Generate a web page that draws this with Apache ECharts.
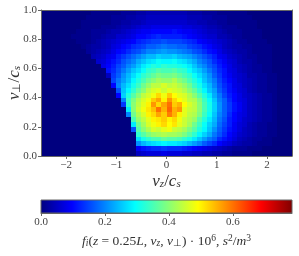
<!DOCTYPE html>
<html><head><meta charset="utf-8">
<style>html,body{margin:0;padding:0;background:#fff}#c{width:299px;height:256px}</style>
<script src="https://cdn.jsdelivr.net/npm/echarts@6/dist/echarts.min.js"></script>
</head><body><div id="c"></div>
<script>
const vzBins = [-2.45,-2.35,-2.25,-2.15,-2.05,-1.95,-1.85,-1.75,-1.65,-1.55,-1.45,-1.35,-1.25,-1.15,-1.05,-0.95,-0.85,-0.75,-0.65,-0.55,-0.45,-0.35,-0.25,-0.15,-0.05,0.05,0.15,0.25,0.35,0.45,0.55,0.65,0.75,0.85,0.95,1.05,1.15,1.25,1.35,1.45,1.55,1.65,1.75,1.85,1.95,2.05,2.15,2.25,2.35,2.45];
const vPerpBins = [0.983,0.95,0.917,0.883,0.85,0.817,0.783,0.75,0.717,0.683,0.65,0.617,0.583,0.55,0.517,0.483,0.45,0.417,0.383,0.35,0.317,0.283,0.25,0.217,0.183,0.15,0.117,0.083,0.05,0.017];
// f_i in hundredths, rows from top (v_perp = 1) to bottom, columns left to right
const fRows = [
[0,0,0,0,0,0,0,0,0,0, 1,1,1,1,1,1,2,2,2,3, 3,4,4,4,4,4,4,4,4,3, 3,3,2,2,2,1,1,1,1,1, 1,0,0,0,0,0,0,0,0,0],
[0,0,0,0,0,0,0,0,0,1, 1,1,1,1,2,2,2,3,3,4, 4,5,5,5,5,5,5,5,5,4, 4,4,3,3,2,2,2,1,1,1, 1,1,0,0,0,0,0,0,0,0],
[0,0,0,0,0,0,0,0,1,1, 1,1,1,1,2,2,3,3,4,4, 5,6,6,6,6,6,6,6,6,5, 5,4,4,3,3,2,2,1,1,1, 1,1,1,0,0,0,0,0,0,0],
[0,0,0,0,0,0,0,0,1,1, 1,1,2,2,2,3,4,4,5,6, 7,7,8,8,8,8,8,8,7,7, 6,6,5,4,4,3,2,2,2,1, 1,1,1,0,0,0,0,0,0,0],
[0,0,0,0,0,0,0,1,1,1, 2,2,2,3,4,4,5,6,7,8, 9,9,10,10,10,10,11,10,9,9, 8,7,6,5,5,4,3,2,2,2, 1,1,1,1,0,0,0,0,0,0],
[0,0,0,0,0,0,1,1,1,1, 2,2,3,4,4,6,6,7,8,10, 10,11,12,13,12,12,12,12,11,10, 9,8,7,6,6,4,4,3,2,2, 1,1,1,1,0,0,0,0,0,0],
[0,0,0,0,0,0,0,1,1,1, 2,3,4,5,6,7,8,9,10,12, 13,14,15,15,16,15,15,15,14,13, 12,10,9,8,7,6,5,4,3,2, 2,1,1,1,1,0,0,0,0,0],
[0,0,0,0,0,0,0,0,1,2, 3,3,4,5,7,8,10,11,13,14, 15,17,17,18,19,18,18,17,17,15, 14,13,11,10,8,7,5,4,3,3, 2,2,1,1,1,1,0,0,0,0],
[0,0,0,0,0,0,0,0,0,2, 3,4,5,6,8,10,11,13,15,16, 18,20,20,21,22,21,21,20,19,18, 16,15,13,11,10,8,6,5,4,3, 3,2,1,1,1,1,0,0,0,0],
[0,0,0,0,0,0,0,0,0,0, 4,5,6,8,9,12,14,16,18,20, 22,24,24,26,25,25,26,24,23,22, 20,18,16,14,12,9,8,6,5,4, 3,2,2,1,1,1,0,0,0,0],
[0,0,0,0,0,0,0,0,0,0, 0,6,7,9,11,13,16,18,20,23, 25,27,28,30,29,29,30,28,27,25, 23,20,18,16,13,11,9,7,6,4, 3,3,2,1,1,1,0,0,0,0],
[0,0,0,0,0,0,0,0,0,0, 0,0,8,10,12,15,17,20,22,25, 28,30,32,31,33,32,32,31,30,28, 25,22,20,17,15,12,10,8,6,5, 4,3,2,2,1,1,0,0,0,0],
[0,0,0,0,0,0,0,0,0,0, 0,0,0,11,13,16,19,22,25,27, 30,33,34,36,35,35,36,34,33,30, 27,25,22,19,16,13,11,8,7,5, 4,3,2,2,1,1,0,0,0,0],
[0,0,0,0,0,0,0,0,0,0, 0,0,0,5,14,17,21,24,27,30, 33,35,37,39,38,38,39,37,35,33, 30,27,24,21,17,14,11,9,7,6, 5,3,3,2,2,1,1,0,0,0],
[0,0,0,0,0,0,0,0,0,0, 0,0,0,0,15,19,22,25,29,32, 35,38,40,42,41,41,43,40,38,35, 32,29,25,22,19,15,12,10,8,6, 5,4,3,2,2,1,1,0,0,0],
[0,0,0,0,0,0,0,0,0,0, 0,0,0,0,10,20,24,27,31,34, 38,41,44,44,46,44,45,43,41,38, 34,31,27,24,20,16,13,11,8,7, 5,4,3,2,2,1,1,0,0,0],
[0,0,0,0,0,0,0,0,0,0, 0,0,0,0,0,16,25,29,33,37, 40,44,46,47,45,47,46,45,43,40, 37,33,29,25,22,17,14,11,9,7, 6,4,3,2,2,1,1,0,0,0],
[0,0,0,0,0,0,0,0,0,0, 0,0,0,0,0,10,26,32,36,40, 44,46,48,52,48,53,49,47,46,43, 40,36,32,28,23,19,15,12,10,8, 6,5,4,3,2,2,1,0,0,0],
[0,0,0,0,0,0,0,0,0,0, 0,0,0,0,0,0,20,34,39,43, 46,48,53,56,50,57,52,49,47,44, 43,39,34,30,25,20,17,13,10,8, 7,5,4,3,2,2,1,0,0,0],
[0,0,0,0,0,0,0,0,0,0, 0,0,0,0,0,0,14,33,40,44, 47,50,57,52,56,60,53,55,49,46, 44,40,35,31,26,21,17,14,11,9, 7,5,4,3,2,2,1,0,0,0],
[0,0,0,0,0,0,0,0,0,0, 0,0,0,0,0,0,0,28,40,45, 48,51,54,60,55,61,55,57,47,45, 44,40,35,31,26,21,17,14,11,9, 7,5,4,3,2,2,1,0,0,0],
[0,0,0,0,0,0,0,0,0,0, 0,0,0,0,0,0,0,20,38,43, 46,50,52,56,53,59,55,50,47,44, 43,39,34,30,25,20,17,13,10,8, 7,5,4,3,2,2,1,0,0,0],
[0,0,0,0,0,0,0,0,0,0, 0,0,0,0,0,0,0,0,35,41, 44,47,50,51,53,50,52,48,45,43, 41,36,32,28,24,19,16,12,10,8, 6,5,4,3,2,2,1,0,0,0],
[0,0,0,0,0,0,0,0,0,0, 0,0,0,0,0,0,0,0,28,38, 42,46,48,50,52,49,51,47,45,42, 38,34,30,26,23,18,15,12,9,7, 6,4,3,2,2,1,1,0,0,0],
[0,0,0,0,0,0,0,0,0,0, 0,0,0,0,0,0,0,0,16,36, 40,43,46,45,47,48,45,44,42,39, 36,32,29,25,21,17,14,11,9,7, 5,4,3,2,2,1,1,0,0,0],
[0,0,0,0,0,0,0,0,0,0, 0,0,0,0,0,0,0,0,0,33, 36,39,41,42,43,42,42,41,39,36, 33,29,26,23,19,16,13,10,8,6, 5,4,3,2,2,1,1,0,0,0],
[0,0,0,0,0,0,0,0,0,0, 0,0,0,0,0,0,0,0,0,27, 31,33,35,35,37,36,36,35,33,31, 28,25,22,19,17,13,11,9,7,5, 4,3,2,2,1,1,0,0,0,0],
[0,0,0,0,0,0,0,0,0,0, 0,0,0,0,0,0,0,0,0,21, 24,26,27,28,29,28,28,27,26,24, 22,20,17,15,13,10,8,7,5,4, 3,3,2,1,1,1,0,0,0,0],
[0,0,0,0,0,0,0,0,0,0, 0,0,0,0,0,0,0,0,0,9, 11,12,13,13,14,13,13,13,12,11, 10,9,8,7,6,5,4,3,2,2, 2,1,1,1,0,0,0,0,0,0],
[0,0,0,0,0,0,0,0,0,0, 0,0,0,0,0,0,0,0,0,5, 6,7,7,7,8,7,7,7,6,6, 5,5,4,4,3,3,2,2,1,1, 1,1,0,0,0,0,0,0,0,0]
];
const xTicks = [-2,-1,0,1,2];
const barTicks = [0,0.2,0.4,0.6];
const barMax = 0.785;
const jetColors = ['#00007f','#0000ff','#007fff','#00ffff','#7fff7f','#ffff00','#ff7f00','#ff0000','#7f0000'];

const cells = [];
fRows.forEach((row, r) => row.forEach((v, c) => cells.push([vzBins[c], vPerpBins[r], v / 100])));
const halfX = (vzBins[1] - vzBins[0]) / 2;
const halfY = (vPerpBins[0] - vPerpBins[1]) / 2;

const font = 'Liberation Serif';
const ink = '#333';
const frame = '#666';
const mi = {fontFamily: font, fontStyle: 'italic', color: ink};
const rm = {fontFamily: font, color: ink};
const rich = {
  i: {...mi, fontSize: 17},
  n: {...rm, fontSize: 17},
  s: {...mi, fontSize: 11, padding: [6, 0, 0, 0]},
  p: {...rm, fontSize: 11, padding: [6, 0, 0, 0]},
  I: {...mi, fontSize: 13.5},
  N: {...rm, fontSize: 13.5},
  S: {...mi, fontSize: 9.5, padding: [5, 0, 0, 0]},
  P: {...rm, fontSize: 9.5, padding: [5, 0, 0, 0]},
  U: {...rm, fontSize: 9.5, padding: [0, 0, 6, 0]}
};
const tickLabel = {fontFamily: font, fontSize: 11, color: '#444', margin: 4};
const axisLine = {show: true, onZero: false, lineStyle: {color: frame, width: 1}};
const tick = {show: true, length: 3, lineStyle: {color: frame, width: 1}};
const fmt = v => String(v).replace('-', '\u2212');
const edge = {type: 'value', gridIndex: 0, splitLine: {show: false}, axisLine, axisTick: {show: false}, axisLabel: {show: false}, z: 5};

const chart = echarts.init(document.getElementById('c'), null, {renderer: 'canvas'});
chart.setOption({
  animation: false,
  backgroundColor: '#fff',
  grid: [
    {left: 41, top: 10, width: 251, height: 146, show: false, outerBoundsMode: 'none'},
    {left: 41, top: 200, width: 251, height: 13, show: false, outerBoundsMode: 'none'}
  ],
  xAxis: [
    {type: 'value', gridIndex: 0, min: -2.5, max: 2.5, position: 'bottom', z: 5,
     splitLine: {show: false}, axisLine, axisTick: {...tick, customValues: xTicks},
     axisLabel: {...tickLabel, customValues: xTicks, formatter: fmt},
     name: '{i|v}{s|z}{n|/}{i|c}{s|s}', nameLocation: 'middle', nameGap: 17, nameMoveOverlap: false,
     nameTextStyle: {rich}},
    {type: 'value', gridIndex: 1, min: 0, max: barMax, position: 'bottom', z: 5,
     splitLine: {show: false}, axisLine,
     axisTick: {...tick, customValues: barTicks},
     axisLabel: {...tickLabel, customValues: barTicks, formatter: v => v.toFixed(1)},
     name: '{I|f}{S|i}{N|(}{I|z}{N| = 0.25}{I|L}{N|, }{I|v}{S|z}{N|, }{I|v}{P|\u22a5}{N|) \u00b7 10}{U|6}{N|, }{I|s}{U|2}{N|/}{I|m}{U|3}',
     nameLocation: 'middle', nameGap: 20, nameMoveOverlap: false, nameTextStyle: {rich}},
    {...edge, min: -2.5, max: 2.5, position: 'top'}
  ],
  yAxis: [
    {type: 'value', gridIndex: 0, min: 0, max: 1, interval: 0.2, z: 5,
     splitLine: {show: false}, axisLine, axisTick: tick,
     axisLabel: {...tickLabel, formatter: v => v.toFixed(1)},
     name: '{i|v}{p|\u22a5}{n|/}{i|c}{s|s}', nameLocation: 'middle', nameRotate: 90, nameGap: 18, nameMoveOverlap: false,
     nameTextStyle: {rich}},
    {type: 'value', gridIndex: 1, min: 0, max: 1, show: false},
    {...edge, min: 0, max: 1, position: 'right'}
  ],
  visualMap: {
    type: 'continuous', seriesIndex: 0, dimension: 2, min: 0, max: barMax,
    show: false, inRange: {color: jetColors}
  },
  series: [
    {type: 'custom', xAxisIndex: 0, yAxisIndex: 0, coordinateSystem: 'cartesian2d',
     data: cells, encode: {x: 0, y: 1}, silent: true, clip: true, z: 1,
     renderItem(params, api) {
       const a = api.coord([api.value(0) - halfX, api.value(1) + halfY]);
       const b = api.coord([api.value(0) + halfX, api.value(1) - halfY]);
       const x0 = Math.round(a[0]), y0 = Math.round(a[1]);
       return {type: 'rect',
         shape: {x: x0, y: y0, width: Math.round(b[0]) - x0, height: Math.round(b[1]) - y0},
         style: {fill: api.visual('color')}};
     }},
    {type: 'custom', xAxisIndex: 1, yAxisIndex: 1, coordinateSystem: 'cartesian2d',
     data: [[0, barMax]], encode: {x: [0, 1]}, silent: true, clip: false, z: 1,
     renderItem(params, api) {
       const a = api.coord([api.value(0), 1]);
       const b = api.coord([api.value(1), 0]);
       return {type: 'rect',
         shape: {x: a[0], y: a[1], width: b[0] - a[0], height: b[1] - a[1]},
         style: {
           fill: new echarts.graphic.LinearGradient(0, 0, 1, 0,
             jetColors.map((color, k) => ({offset: k / (jetColors.length - 1), color}))),
           stroke: frame, lineWidth: 1
         }};
     }}
  ]
});
</script></body></html>
